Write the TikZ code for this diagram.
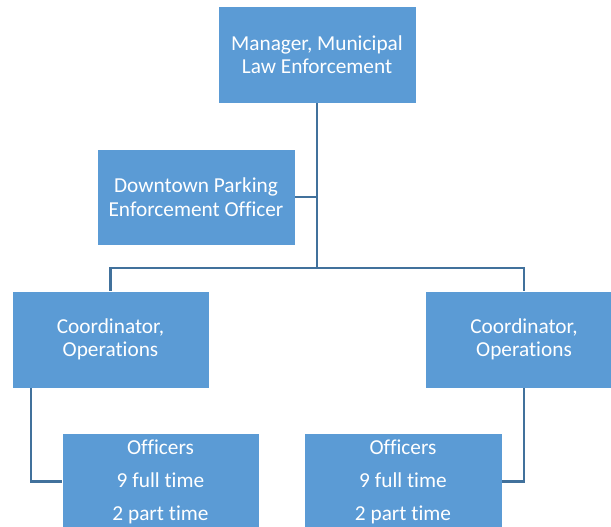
\documentclass[tikz,border=0pt]{standalone}
\usepackage{fontspec}
\setmainfont{Carlito}[Ligatures=NoCommon]
\usetikzlibrary{positioning,calc}
\definecolor{orgFill}{HTML}{5B9BD5}
\definecolor{orgLine}{HTML}{41719C}

\begin{document}
\begin{tikzpicture}[x=1pt,y=-1pt,
    post/.style={draw=white,line width=0.6pt,fill=orgFill,text=white,
      align=center,inner sep=0pt,minimum width=198pt,minimum height=97pt,
      font=\fontsize{21.3}{23.5}\selectfont},
    crew/.style={post,font=\fontsize{21.3}{33}\selectfont},
    link/.style={draw=orgLine,line width=2.4pt}]
  \useasboundingbox (0,0) rectangle (611,527);
  \clip (0,0) rectangle (611,527);

  % boxes
  \node[post] (mgr) at (317,54.5) {Manager, Municipal\\Law Enforcement};
  \node[post,minimum height=96pt] (dpeo) at (196,197) {Downtown Parking\\Enforcement Officer};
  \node[post,minimum width=197pt] (coordL) at (110.5,339.5) {Coordinator,\\Operations};
  \node[post] (coordR) at (524,339.5) {Coordinator,\\Operations};
  \node[crew,minimum width=197pt] (offL) at (160.5,481.5) {Officers\\9 full time\\2 part time};
  \node[crew] (offR) at (403,481.5) {Officers\\9 full time\\2 part time};

  % connectors
  \coordinate (split) at (mgr.south |- 0,268);
  \draw[link] (mgr.south) -- (split);
  \draw[link] (dpeo.east) -- (dpeo.east -| split);
  \draw[link] (coordL.north) |- (split) -| (coordR.north);
  \draw[link] ([xshift=19pt]coordL.south west) |- (offL.west);
  \draw[link] (coordR.south) |- (offR.east);
\end{tikzpicture}
\end{document}
